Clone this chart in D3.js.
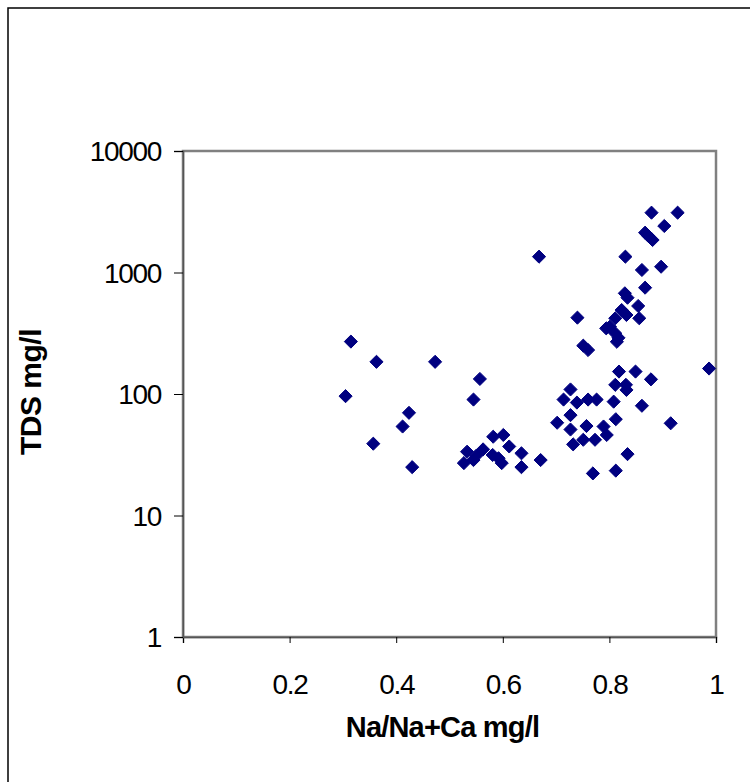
<!DOCTYPE html>
<html>
<head>
<meta charset="utf-8">
<script src="https://cdn.jsdelivr.net/npm/d3@7"></script>
<style>
  html, body { margin: 0; padding: 0; background: #fff; }
  svg { display: block; }
  text { font-family: "Liberation Sans", Arial, sans-serif; }
</style>
</head>
<body>
<svg id="chart" width="750" height="782"></svg>
<script>
// Na/(Na+Ca) ratio values
const naRatio = [
  0.305, 0.315, 0.357, 0.363, 0.412, 0.424, 0.430, 0.473, 0.545, 0.557,
  0.527, 0.533, 0.545, 0.550, 0.563, 0.581, 0.582, 0.592, 0.598, 0.601,
  0.612, 0.635, 0.635, 0.671, 0.668,
  0.702, 0.714, 0.727, 0.727, 0.727, 0.732, 0.739, 0.751, 0.757, 0.760,
  0.769, 0.773, 0.776, 0.789, 0.795, 0.808, 0.811, 0.812, 0.812, 0.818,
  0.831, 0.832, 0.834, 0.849, 0.861, 0.878, 0.915, 0.987,
  0.740, 0.751, 0.760, 0.794, 0.801, 0.811, 0.811, 0.814, 0.817, 0.823,
  0.829, 0.830, 0.832, 0.834, 0.854, 0.856, 0.861, 0.867, 0.867, 0.873,
  0.881, 0.879, 0.897, 0.903, 0.928
];
// TDS values (mg/l)
const tds = [
  96, 270, 39, 184, 54, 70, 25, 184, 90, 133,
  27, 33.5, 28.6, 31, 35, 31.5, 44.5, 29.6, 27, 46,
  37, 32.5, 25, 28.6, 1350,
  58, 90, 109, 67, 51, 38.5, 85, 42, 54.5, 90,
  22.2, 42, 90, 54, 46, 86.5, 119, 62, 23.4, 153,
  119, 108, 32, 153, 80, 132, 57.4, 162,
  425, 250, 230, 347, 358, 316, 420, 269, 290, 491,
  674, 1350, 447, 620, 530, 420, 1049, 750, 2127, 2000,
  1851, 3107, 1116, 2414, 3107
];
const xTicks = [0, 0.2, 0.4, 0.6, 0.8, 1];
const xTickLabels = ["0", "0.2", "0.4", "0.6", "0.8", "1"];
const yTicks = [1, 10, 100, 1000, 10000];
const yTickLabels = ["1", "10", "100", "1000", "10000"];
const xTitle = "Na/Na+Ca mg/l";
const yTitle = "TDS mg/l";

(function () {
const svg = d3.select("#chart");
const pL = 183, pR = 716, pT = 151, pB = 637;

// outer chart border
svg.append("rect")
  .attr("x", 8).attr("y", 8).attr("width", 800).attr("height", 800)
  .attr("fill", "#fff").attr("stroke", "#000").attr("stroke-width", 1.5);

const x = d3.scaleLinear().domain([0, 1]).range([pL, pR]);
const y = d3.scaleLog().domain([1, 10000]).range([pB, pT]);

// plot area border
svg.append("rect")
  .attr("x", pL).attr("y", pT)
  .attr("width", pR - pL).attr("height", pB - pT)
  .attr("fill", "#fff").attr("stroke", "#808080").attr("stroke-width", 2.5);

// axes
const xAxis = svg.append("g")
  .attr("transform", `translate(0,${pB})`)
  .call(d3.axisBottom(x).tickValues(xTicks).tickSize(6).tickFormat((d, i) => xTickLabels[i]));
const yAxis = svg.append("g")
  .attr("transform", `translate(${pL},0)`)
  .call(d3.axisLeft(y).tickValues(yTicks).tickSize(9).tickFormat((d, i) => yTickLabels[i]));

[xAxis, yAxis].forEach(g => {
  g.select(".domain").attr("stroke", "#555").attr("stroke-width", 1.5);
  g.selectAll(".tick line").attr("stroke", "#000").attr("stroke-width", 1);
  g.selectAll(".tick text")
    .attr("fill", "#000")
    .style("font-size", "28px")
    .style("letter-spacing", "-1.3px")
    .style("font-family", "'Liberation Sans', Arial, sans-serif");
});
xAxis.selectAll(".tick text").attr("dy", "1.72em");
yAxis.selectAll(".tick text").attr("x", -22).attr("dy", "0.35em");

// points (diamonds)
const pts = naRatio.map((v, i) => [v, tds[i]]);
const diamond = d3.symbol().type(d3.symbolDiamond2).size(110);
svg.append("g").selectAll("path")
  .data(pts)
  .join("path")
  .attr("d", diamond)
  .attr("transform", d => `translate(${x(d[0])},${y(d[1])})`)
  .attr("fill", "#000080")
  .attr("stroke", "#000080")
  .attr("stroke-width", 1)
  .attr("stroke-linejoin", "round");

// titles
svg.append("text")
  .attr("x", (pL + pR) / 2 - 7).attr("y", 737)
  .attr("text-anchor", "middle")
  .style("font-size", "29px").style("font-weight", "bold")
  .style("letter-spacing", "-0.8px")
  .text(xTitle);

svg.append("text")
  .attr("transform", `translate(41,${(pT + pB) / 2 - 2}) rotate(-90)`)
  .attr("text-anchor", "middle")
  .style("font-size", "30px").style("font-weight", "bold")
  .style("letter-spacing", "-0.5px")
  .text(yTitle);
})();
</script>
</body>
</html>
